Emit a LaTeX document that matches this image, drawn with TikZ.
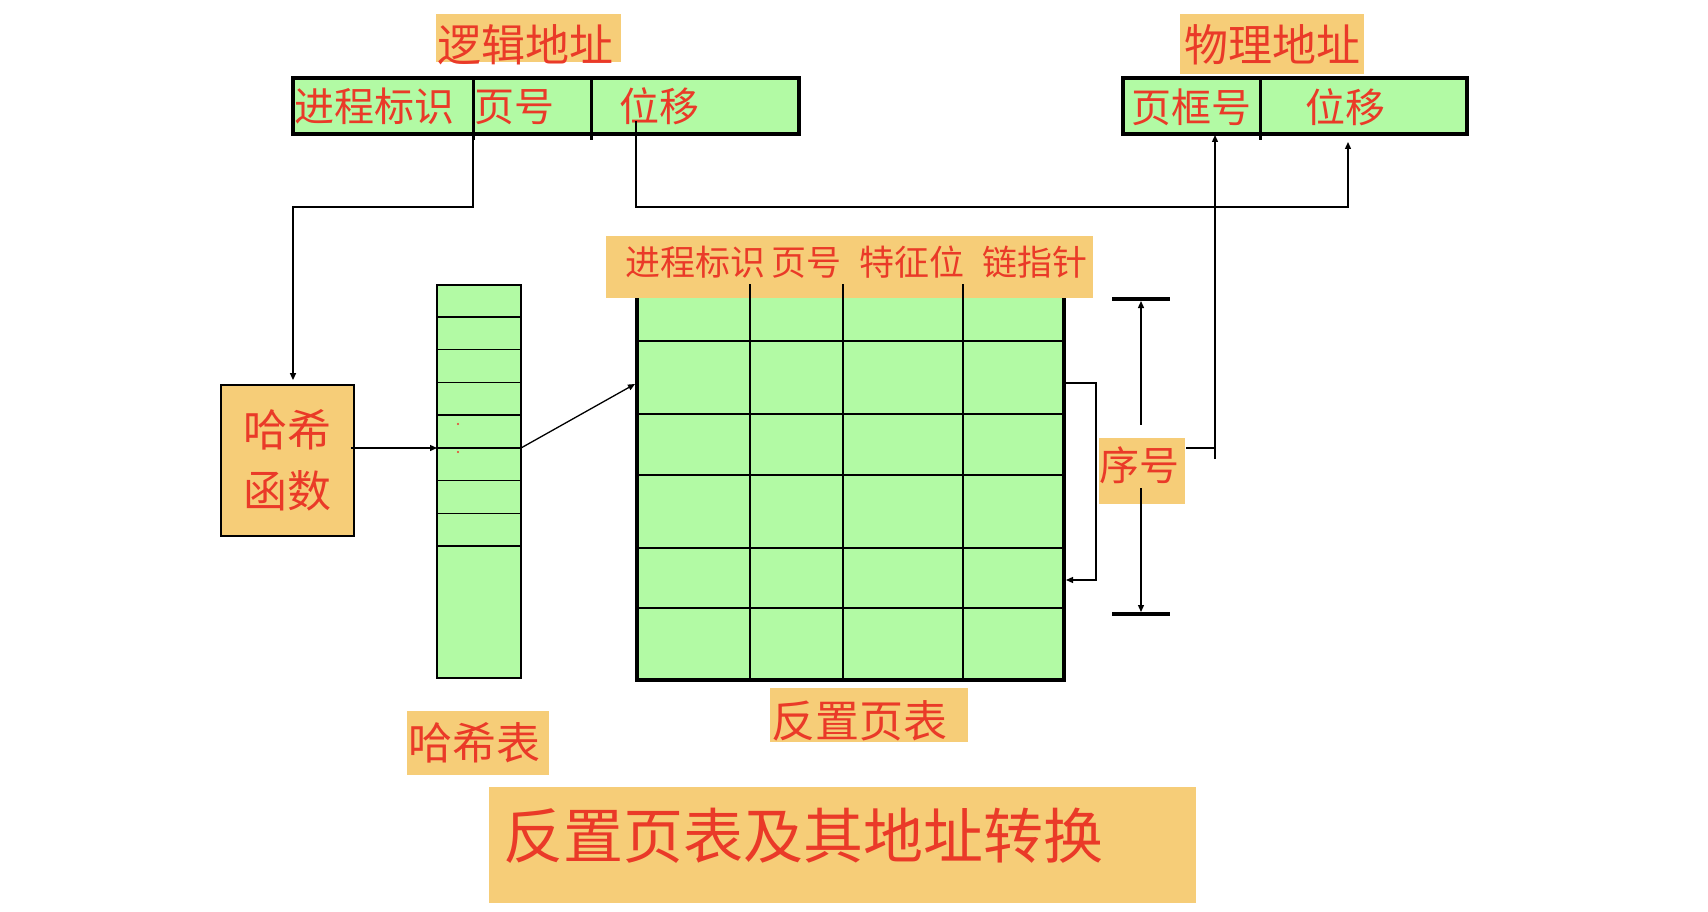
\documentclass[tikz,border=0pt]{standalone}
\usepackage{fontspec}
\setmainfont{Noto Sans CJK SC}
\usetikzlibrary{arrows.meta,calc}

\definecolor{tagbg}{RGB}{246,205,120}
\definecolor{cellgreen}{RGB}{178,250,164}
\definecolor{tagred}{RGB}{234,58,40}

\tikzset{
  tag/.style={fill=tagbg, text=tagred, inner sep=0pt, anchor=base},
  cell/.style={text=tagred, inner sep=0pt, anchor=base west, font=\fontsize{40}{44}\selectfont},
  addrbox/.style={draw, line width=3.5pt, fill=cellgreen, inner sep=0pt},
  conn/.style={line width=1.3pt},
  arr/.style={conn, -{Triangle[length=7pt,width=6pt]}},
  bar/.style={line width=3.5pt},
  grid/.style={line width=1.8pt}
}

\begin{document}
\begin{tikzpicture}[x=1pt,y=-1pt]
  \useasboundingbox (0,0) rectangle (1708,912);

  % Logical address
  \node[tag, font=\fontsize{44}{48}\selectfont, minimum width=185pt, text height=48pt, text depth=-3pt] (logtag) at (528.5,62) {逻辑地址\kern7pt};
  \node[addrbox, minimum width=506pt, minimum height=56pt] (logbox) at (546,106) {};
  \draw[line width=3pt] (473,78) -- (473,140) coordinate (pgdiv);
  \draw[line width=3pt] (591,78) -- (591,140);
  \node[cell] (pid) at (294,121.7) {进程标识};
  \node[cell] (pgno) at (474,121.7) {页号};
  \node[cell] (offset) at (619,121.7) {位移};

  % Physical address
  \node[tag, font=\fontsize{44}{48}\selectfont, minimum width=184pt, text height=48pt, text depth=12pt] (phystag) at (1272,62) {物理地址};
  \node[addrbox, minimum width=344pt, minimum height=56pt] (physbox) at (1295,106) {};
  \draw[line width=3pt] (1260,78) -- (1260,140);
  \node[cell] (frameno) at (1131,123) {页框号};
  \node[cell] (physoff) at (1305,123) {位移};

  % Hash function
  \node[draw, line width=1.8pt, fill=tagbg, text=tagred, minimum width=133pt, minimum height=151pt, align=center, font=\fontsize{44}{61}\selectfont] (hashfn) at (287.5,460.5) {哈希\\函数};

  % Hash table
  \node[draw, line width=1.5pt, fill=cellgreen, minimum width=84pt, minimum height=393pt, inner sep=0pt] (hashtab) at (479,481.5) {};
  \foreach \r in {1,...,8}
    \draw[line width=1.5pt] (437,{284+32.75*\r}) -- (521,{284+32.75*\r});
  \fill[tagred] (458,424) circle (1.2pt);
  \fill[tagred] (458,452) circle (1.2pt);
  \node[tag, font=\fontsize{44}{48}\selectfont, minimum width=142pt, text height=48pt, text depth=16pt] (hashlbl) at (478,759) {哈希表\kern8pt};

  % Inverted page table
  \node[draw, line width=4pt, fill=cellgreen, minimum width=427pt, minimum height=390pt, inner sep=0pt] (invtab) at (850.5,485) {};
  \node[tag, font=\fontsize{35}{40}\selectfont, minimum width=487pt, text height=40pt, text depth=22pt] (invhead) at (849.5,276) {\hspace{14pt}进程标识\hspace{6pt}页号\hspace{18pt}特征位\hspace{18pt}链指针};
  \foreach \y in {341,414,475,548,608}
    \draw[grid] (637,\y) -- (1064,\y);
  \foreach \x in {750,843,963}
    \draw[grid] (\x,284) -- (\x,679);
  \node[tag, font=\fontsize{44}{48}\selectfont, minimum width=198pt, text height=49pt, text depth=5pt] (invlbl) at (869,737) {反置页表\kern20pt};

  % Serial number
  \node[tag, font=\fontsize{40}{44}\selectfont, minimum width=86pt, text height=42pt, text depth=24pt] (seqtag) at (1142,480) {序号\kern6pt};
  \coordinate (seqtop) at (1141,299);
  \coordinate (seqbot) at (1141,614);
  \draw[bar] ([xshift=-29pt]seqtop) -- ([xshift=29pt]seqtop);
  \draw[bar] ([xshift=-29pt]seqbot) -- ([xshift=29pt]seqbot);
  \draw[arr, shorten >=2pt] ($(seqtag.north)+(-1,-13)$) -- (seqtop);
  \draw[arr, shorten >=2pt] ($(seqtag.south)+(-1,-16)$) -- (seqbot);

  % Chain pointer
  \coordinate (chainout) at (1066,383);
  \coordinate (chainin) at (1066,580);
  \draw[arr] (chainout) -- ++(30,0) |- (chainin);

  % Address translation
  \coordinate (hslot) at (437,448);
  \coordinate (hslotout) at (521,448);
  \coordinate (invin) at (635,384);
  \coordinate (offsrc) at (636,121);
  \coordinate (offdst) at (1348,135);
  \coordinate (framesrc) at (1215,459);
  \coordinate (framedst) at (1215,135);
  \draw[arr, shorten >=4pt] (pgdiv) -- ++(0,67) -| ([xshift=5.5pt]hashfn.north);
  \draw[arr] ($(hashfn.east |- hslot)+(-4,0)$) -- (hslot);
  \draw[arr] (hslotout) -- (invin);
  \draw[arr, shorten >=7pt] (offsrc) -- ++(0,86) -| (offdst);
  \draw[arr] (framesrc) -- (framedst);
  \draw[conn] ($(seqtag.east)+(1,-23)$) -- (framesrc |- 0,448);

  % Title
  \node[tag, font=\fontsize{60}{66}\selectfont, minimum width=707pt, text height=71pt, text depth=45pt] (title) at (842.5,858) {反置页表及其地址转换\kern79pt};

\end{tikzpicture}
\end{document}
